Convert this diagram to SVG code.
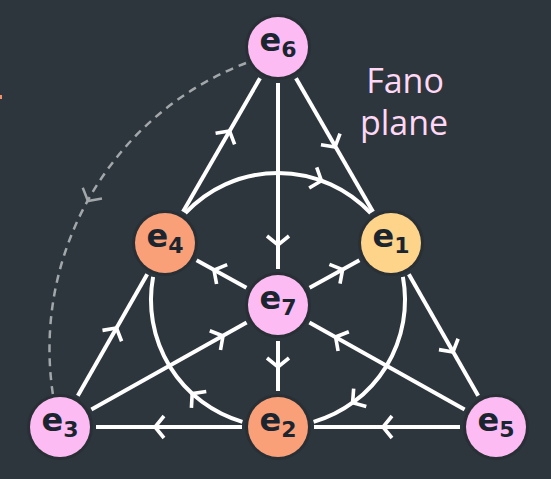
<svg xmlns="http://www.w3.org/2000/svg" xmlns:xlink="http://www.w3.org/1999/xlink" width="551" height="479" viewBox="0 0 551 479">
<style>
.ln{stroke:#ffffff;stroke-width:4;fill:none}
.ch{stroke:#ffffff;stroke-width:3.6;fill:none;stroke-linejoin:miter}
.dash{stroke:#a2a7ab;stroke-width:2.5;fill:none;stroke-dasharray:8 6}
.chg{stroke:#a2a7ab;stroke-width:2.5;fill:none}
.halo{fill:#283036}
.pink{fill:#fdbbf4}
.orange{fill:#f9a078}
.yellow{fill:#fdd48a}
.lbl{font-family:"DejaVu Sans",sans-serif;font-weight:bold;font-size:32px;fill:#1b2530}
.sub{font-size:22px}
.title{font-family:"Open Sans",sans-serif;font-weight:500;font-size:34px;fill:#ffd8f6}
</style>
<defs>
<path id="chev" d="M-9,-11 L0,0 L-9,11"/>
</defs>
<rect width="551" height="479" fill="#2d363c"/>
<rect x="0" y="95" width="2" height="4" fill="#f4906a"/>
<g id="connectors">
<path class="dash" d="M246,63 A306,306 0 0 0 53,395"/>
<use href="#chev" class="chg" transform="translate(88,201) rotate(119)"/>
<line class="ln" x1="183" y1="211.8" x2="260" y2="78.2"/>
<line class="ln" x1="296" y1="78.2" x2="373" y2="211.8"/>
<line class="ln" x1="278" y1="83" x2="278" y2="269"/>
<line class="ln" x1="278" y1="341" x2="278" y2="391"/>
<line class="ln" x1="147.2" y1="274.3" x2="77.8" y2="395.7"/>
<line class="ln" x1="408.8" y1="274.3" x2="478.2" y2="395.7"/>
<line class="ln" x1="96" y1="427" x2="242" y2="427"/>
<line class="ln" x1="314" y1="427" x2="460" y2="427"/>
<line class="ln" x1="196.6" y1="260.3" x2="246.4" y2="287.7"/>
<line class="ln" x1="309.4" y1="322.6" x2="464.6" y2="409.4"/>
<line class="ln" x1="309.6" y1="287.7" x2="359.4" y2="260.3"/>
<line class="ln" x1="91.4" y1="409.4" x2="246.6" y2="322.6"/>
<path class="ln" d="M185.3,213.2 A127,127 0 0 1 370.7,213.2"/>
<path class="ln" d="M402.9,276.9 A127,127 0 0 1 313.6,421.9"/>
<path class="ln" d="M242.4,421.9 A127,127 0 0 1 153.1,276.9"/>
<use href="#chev" class="ch" transform="translate(229.6,131) rotate(-60)"/>
<use href="#chev" class="ch" transform="translate(335,147) rotate(60)"/>
<use href="#chev" class="ch" transform="translate(278,245) rotate(90)"/>
<use href="#chev" class="ch" transform="translate(278,367) rotate(90)"/>
<use href="#chev" class="ch" transform="translate(116.5,328) rotate(-60.3)"/>
<use href="#chev" class="ch" transform="translate(453,352) rotate(60.3)"/>
<use href="#chev" class="ch" transform="translate(155,427) rotate(180)"/>
<use href="#chev" class="ch" transform="translate(383,427) rotate(180)"/>
<use href="#chev" class="ch" transform="translate(214,270) rotate(-151.2)"/>
<use href="#chev" class="ch" transform="translate(335.6,337) rotate(-150.8)"/>
<use href="#chev" class="ch" transform="translate(342.6,269.6) rotate(-28.8)"/>
<use href="#chev" class="ch" transform="translate(223,336) rotate(-29.2)"/>
<use href="#chev" class="ch" transform="translate(321.4,180.7) rotate(20)"/>
<use href="#chev" class="ch" transform="translate(352.6,402.7) rotate(145)"/>
<use href="#chev" class="ch" transform="translate(192.2,393.6) rotate(222.5)"/>
</g>
<g id="e6"><circle class="halo" cx="278" cy="47" r="33"/><circle class="pink" cx="278" cy="47" r="30"/><text class="lbl" x="278" y="51" text-anchor="middle">e<tspan class="sub" dy="6">6</tspan></text></g>
<g id="e4"><circle class="halo" cx="165" cy="243" r="33"/><circle class="orange" cx="165" cy="243" r="30"/><text class="lbl" x="165" y="247" text-anchor="middle">e<tspan class="sub" dy="6">4</tspan></text></g>
<g id="e1"><circle class="halo" cx="391" cy="243" r="33"/><circle class="yellow" cx="391" cy="243" r="30"/><text class="lbl" x="391" y="247" text-anchor="middle">e<tspan class="sub" dy="6">1</tspan></text></g>
<g id="e7"><circle class="halo" cx="278" cy="305" r="33"/><circle class="pink" cx="278" cy="305" r="30"/><text class="lbl" x="278" y="309" text-anchor="middle">e<tspan class="sub" dy="6">7</tspan></text></g>
<g id="e3"><circle class="halo" cx="60" cy="427" r="33"/><circle class="pink" cx="60" cy="427" r="30"/><text class="lbl" x="60" y="431" text-anchor="middle">e<tspan class="sub" dy="6">3</tspan></text></g>
<g id="e2"><circle class="halo" cx="278" cy="427" r="33"/><circle class="orange" cx="278" cy="427" r="30"/><text class="lbl" x="278" y="431" text-anchor="middle">e<tspan class="sub" dy="6">2</tspan></text></g>
<g id="e5"><circle class="halo" cx="496" cy="427" r="33"/><circle class="pink" cx="496" cy="427" r="30"/><text class="lbl" x="496" y="431" text-anchor="middle">e<tspan class="sub" dy="6">5</tspan></text></g>
<g id="title"><text class="title" x="405" y="93" text-anchor="middle">Fano</text><text class="title" x="404" y="135" text-anchor="middle">plane</text></g>
</svg>
